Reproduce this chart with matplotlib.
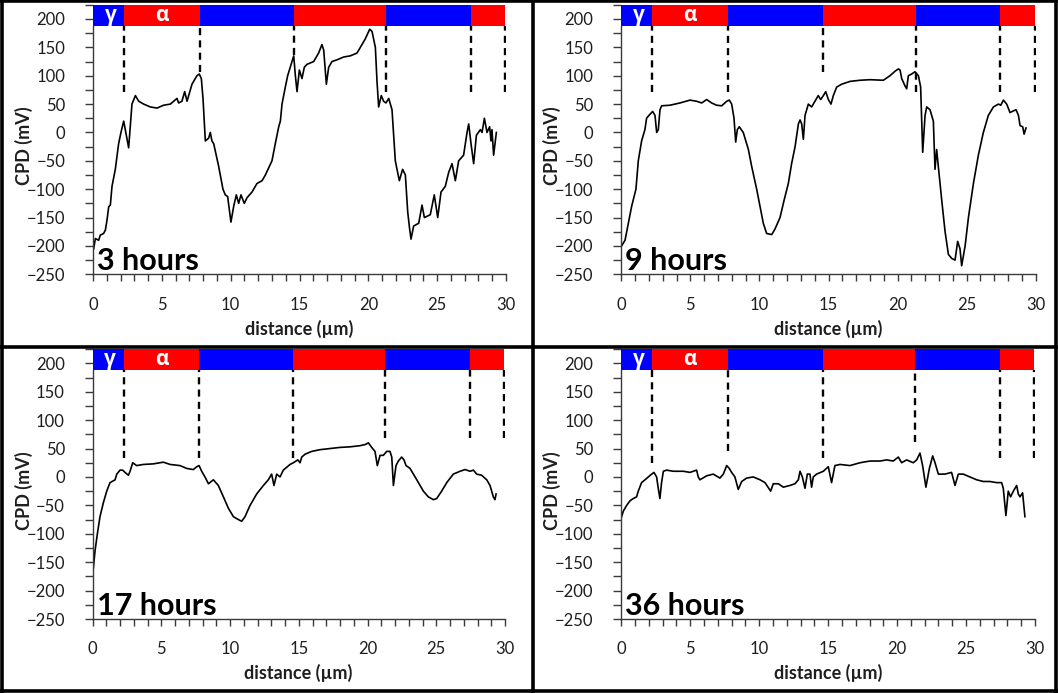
import matplotlib
matplotlib.use("Agg")
import matplotlib.pyplot as plt
from matplotlib.patches import Rectangle
from matplotlib.lines import Line2D
from matplotlib.ticker import MultipleLocator

plt.rcParams['font.family'] = ['Lato', 'DejaVu Sans']

# ---- phase boundaries along the line scan (µm) and phase colours ----
boundaries = [0.0, 2.25, 7.75, 14.6, 21.3, 27.45, 29.95]
phase_colors = ['#0000FF', '#FF0000', '#0000FF', '#FF0000', '#0000FF', '#FF0000']
phase_labels = ['γ', 'α', '', '', '', '']

# ---- CPD profiles (distance in µm, CPD in mV) ----
x_3h = [0.05, 0.17, 0.41, 0.53, 0.77, 0.90, 1.02, 1.14, 1.26, 1.38, 1.62, 1.86, 2.03, 2.23,
        2.59, 2.83, 3.08, 3.32, 3.68, 4.16, 4.65, 5.13, 5.62, 5.86, 6.10, 6.22, 6.46, 6.66,
        6.83, 7.07, 7.19, 7.31, 7.55, 7.72, 7.87, 7.99, 8.16, 8.40, 8.52, 8.64, 8.77, 9.13,
        9.44, 9.61, 9.78, 9.98, 10.02, 10.22, 10.41, 10.58, 10.75, 10.99, 11.19, 11.55, 11.91,
        12.28, 12.52, 13.00, 13.24, 13.49, 13.61, 13.73, 13.97, 14.14, 14.33, 14.58, 14.70,
        14.82, 14.99, 15.18, 15.35, 15.54, 16.03, 16.39, 16.63, 16.76, 16.95, 17.12, 17.36,
        17.72, 18.21, 18.69, 19.18, 19.54, 19.78, 20.10, 20.27, 20.51, 20.63, 20.75, 20.94,
        21.11, 21.28, 21.48, 21.72, 21.96, 22.25, 22.49, 22.69, 22.86, 23.00, 23.10, 23.29,
        23.66, 23.90, 24.07, 24.50, 24.79, 25.04, 25.28, 25.59, 25.84, 26.08, 26.32, 26.56,
        26.92, 27.17, 27.29, 27.46, 27.65, 27.85, 28.14, 28.26, 28.43, 28.62, 28.81, 28.91,
        28.98, 29.10, 29.30]
cpd_3h = [-205, -187, -190, -181, -178, -172, -154, -131, -128, -95, -65, -20, 0, 20,
          -27, 50, 65, 55, 50, 45, 43, 48, 50, 55, 60, 52, 55, 72,
          55, 75, 85, 90, 100, 103, 95, 60, -15, -10, 0, -15, -20, -60,
          -100, -110, -113, -150, -158, -130, -110, -125, -110, -125, -115, -105, -90,
          -85, -75, -50, -20, 10, 20, 50, 80, 100, 115, 135, 100,
          72, 110, 95, 115, 120, 125, 140, 155, 145, 85, 115, 125,
          128, 133, 135, 140, 155, 165, 182, 178, 150, 90, 45, 65,
          55, 52, 60, 40, -50, -85, -65, -75, -140, -170, -188, -165,
          -160, -128, -150, -145, -110, -150, -105, -95, -70, -55, -85, -50,
          -40, 0, 15, -20, -55, -5, 5, 0, 25, 0, 10, -15,
          5, -40, 0]

x_9h = [0.02, 0.27, 0.51, 0.75, 1.06, 1.23, 1.47, 1.71, 1.83, 2.00, 2.27, 2.44, 2.56, 2.68,
        2.80, 2.92, 3.52, 4.25, 4.97, 5.45, 5.82, 6.18, 6.54, 6.90, 7.27, 7.63, 7.82, 7.99,
        8.16, 8.28, 8.40, 8.54, 8.83, 9.20, 9.44, 9.80, 10.04, 10.28, 10.52, 10.89, 11.13,
        11.49, 11.78, 12.09, 12.33, 12.58, 12.82, 12.94, 13.06, 13.18, 13.30, 13.54, 13.78,
        14.02, 14.26, 14.43, 14.63, 14.80, 14.99, 15.18, 15.35, 15.59, 15.95, 16.56, 17.28,
        18.01, 18.97, 19.45, 19.82, 20.06, 20.18, 20.30, 20.54, 20.66, 20.78, 21.02, 21.26,
        21.51, 21.67, 21.82, 21.99, 22.11, 22.35, 22.59, 22.71, 22.83, 22.95, 23.20, 23.44,
        23.68, 23.92, 24.16, 24.35, 24.52, 24.64, 24.89, 25.13, 25.49, 25.85, 26.21, 26.57,
        26.94, 27.30, 27.47, 27.66, 27.90, 28.14, 28.38, 28.58, 28.75, 28.87, 29.06, 29.16,
        29.30]
cpd_9h = [-200, -190, -160, -130, -100, -50, -15, 5, 25, 30, 37, 30, 0, 5,
          40, 47, 48, 52, 57, 55, 52, 58, 52, 48, 47, 55, 57, 50,
          25, -17, 5, 10, 0, -30, -60, -100, -130, -160, -178, -180, -170,
          -150, -120, -90, -55, -25, 15, 22, 15, -12, 30, 50, 45,
          55, 65, 58, 65, 72, 58, 50, 65, 80, 85, 90, 92,
          93, 92, 100, 108, 112, 110, 95, 82, 77, 100, 103, 107,
          100, 80, -35, 30, 45, 40, 20, -65, -30, -60, -120, -175,
          -215, -222, -225, -192, -205, -235, -200, -150, -90, -40, 0, 30,
          45, 50, 48, 57, 50, 35, 38, 40, 30, 12, 10, -3,
          8]

x_17h = [0.05, 0.17, 0.34, 0.53, 0.78, 1.02, 1.26, 1.63, 1.75, 1.99, 2.18, 2.35, 2.60, 2.72,
         2.91, 3.20, 3.69, 4.41, 5.14, 5.63, 6.35, 6.84, 7.32, 7.57, 7.74, 7.93, 8.17, 8.42,
         8.78, 9.14, 9.51, 9.87, 10.24, 10.60, 10.84, 11.08, 11.45, 11.93, 12.42, 12.78, 13.02,
         13.19, 13.39, 13.63, 13.87, 14.36, 14.60, 14.92, 15.09, 15.21, 15.45, 15.94, 16.54,
         17.27, 18.00, 18.72, 19.45, 19.82, 20.06, 20.30, 20.54, 20.71, 20.91, 21.15, 21.39,
         21.63, 21.76, 21.88, 22.07, 22.24, 22.48, 22.65, 22.80, 23.09, 23.58, 24.06, 24.42,
         24.79, 25.03, 25.39, 25.76, 26.24, 26.73, 27.09, 27.46, 27.70, 27.94, 28.30, 28.67,
         28.91, 29.15, 29.27, 29.35]
cpd_17h = [-160, -130, -100, -70, -45, -25, -10, -5, 5, 12, 12, 8, 3, 10,
           25, 20, 22, 23, 26, 22, 20, 15, 13, 18, 20, 10, 0, -12,
           -5, -15, -35, -55, -70, -75, -78, -70, -50, -30, -15, -5, 5,
           -15, 5, 0, 12, 22, 25, 30, 25, 35, 40, 45, 48,
           50, 52, 53, 55, 57, 60, 52, 45, 20, 38, 38, 45,
           45, 35, -15, 20, 28, 35, 30, 20, 15, -5, -25, -35,
           -40, -38, -25, -10, 5, 10, 13, 10, 12, 5, 3, -5,
           -15, -35, -40, -30]

x_36h = [0.02, 0.15, 0.39, 0.63, 0.87, 1.11, 1.23, 1.47, 1.72, 1.96, 2.20, 2.37, 2.56, 2.68,
         2.80, 2.92, 3.05, 3.29, 3.77, 4.50, 4.98, 5.46, 5.58, 5.70, 6.19, 6.67, 7.15, 7.40,
         7.64, 7.83, 8.00, 8.24, 8.48, 8.73, 9.09, 9.57, 10.06, 10.42, 10.83, 11.02, 11.39,
         11.75, 12.23, 12.59, 12.84, 12.96, 13.13, 13.32, 13.49, 13.68, 13.80, 13.92, 14.16,
         14.65, 15.01, 15.25, 15.49, 15.86, 16.58, 17.31, 18.03, 18.76, 19.24, 19.72, 20.09,
         20.33, 20.69, 21.17, 21.42, 21.66, 21.85, 22.09, 22.34, 22.58, 22.75, 22.99, 23.47,
         23.95, 24.20, 24.44, 24.80, 25.28, 25.77, 26.25, 26.73, 27.22, 27.58, 27.70, 27.89,
         28.06, 28.23, 28.43, 28.67, 28.79, 28.91, 29.10, 29.27]
cpd_36h = [-70, -60, -50, -42, -38, -35, -25, -10, -5, 0, 5, 8, 0, -20,
           -38, -10, 10, 12, 10, 10, 8, 12, 0, -5, 2, 5, -2, 5,
           20, 15, 8, 0, -22, -8, -2, 0, -5, -10, -25, -12, -12,
           -18, -15, -12, -5, 10, 0, -20, 5, 5, -18, 0, 5,
           10, 18, -10, 20, 22, 20, 25, 28, 28, 30, 28, 35,
           25, 30, 25, 30, 42, 20, -18, 15, 37, 25, 5, 5,
           8, -15, 5, 5, 0, -5, -8, -8, -10, -10, -20, -68,
           -25, -35, -25, -15, -30, -35, -28, -70]

panel_titles = ['3 hours', '9 hours', '17 hours', '36 hours']
panel_x = [x_3h, x_9h, x_17h, x_36h]
panel_y = [cpd_3h, cpd_9h, cpd_17h, cpd_36h]
# lower end of the dashed boundary markers (mV) in each panel
dash_bottoms = [
    [72, 107, 137, 72, 72, 72],
    [72, 72, 107, 72, 72, 72],
    [33, 33, 33, 69, 69, 69],
    [24, 45, 33, 62, 33, 33],
]

W, H = 1058, 693
fig = plt.figure(figsize=(W / 100, H / 100), dpi=100)

# axes rectangles in pixels: (left, top, right, bottom)
ax_px = [
    (93.0, 4.8, 506.0, 274.3),
    (621.3, 4.8, 1035.7, 274.3),
    (92.7, 349.1, 505.0, 619.0),
    (621.3, 349.1, 1035.0, 619.0),
]

BAR_LO, YTOP = 188, 225
text_col = '#1e1e1e'
spine_col = '#3a3a3a'

for i in range(4):
    l, t, r, b = ax_px[i]
    ax = fig.add_axes([l / W, (H - b) / H, (r - l) / W, (b - t) / H])
    ax.set_xlim(0, 30)
    ax.set_ylim(-250, YTOP)
    for s in ('top', 'right'):
        ax.spines[s].set_visible(False)
    for s in ('left', 'bottom'):
        ax.spines[s].set_color(spine_col)
        ax.spines[s].set_linewidth(1.0)
    ax.spines['left'].set_bounds(-250, BAR_LO)

    ax.xaxis.set_major_locator(MultipleLocator(5))
    ax.xaxis.set_minor_locator(MultipleLocator(1))
    ax.set_yticks(range(-250, 201, 50))
    ax.yaxis.set_minor_locator(MultipleLocator(25))
    ax.tick_params(axis='both', which='both', direction='out', color=spine_col,
                   width=1.0, labelcolor=text_col, labelsize=12)
    ax.tick_params(axis='x', which='major', length=5, pad=11)
    ax.tick_params(axis='x', which='minor', length=5)
    ax.tick_params(axis='y', which='major', length=6, pad=14)
    ax.tick_params(axis='y', which='minor', length=6)

    ax.set_xlabel('distance (µm)', fontsize=13, fontweight='bold', color=text_col)
    ax.set_ylabel('CPD (mV)', fontsize=13, fontweight='bold', color=text_col)
    ax.xaxis.set_label_coords(0.499, -0.168)
    ax.yaxis.set_label_coords(-0.146, 0.476)

    # phase bar along the top
    for k in range(len(phase_colors)):
        x0, x1 = boundaries[k], boundaries[k + 1]
        ax.add_patch(Rectangle((x0, BAR_LO), x1 - x0, YTOP - BAR_LO,
                               facecolor=phase_colors[k], edgecolor='none',
                               zorder=3, clip_on=False))
        if phase_labels[k]:
            cx = (x0 + x1) / 2 + (0.15 if k == 0 else 0)
            ax.text(cx, 207, phase_labels[k], color='white', fontsize=15,
                    fontweight='bold', ha='center', va='center', zorder=4,
                    family=['Open Sans', 'DejaVu Sans'])

    # dashed boundary markers
    ax.vlines(boundaries[1:], dash_bottoms[i], BAR_LO, colors='black',
              linestyles=(0, (3.0, 2.2)), linewidth=1.7, zorder=2)

    ax.plot(panel_x[i], panel_y[i], color='black', linewidth=1.2, zorder=2)

    ax.text(0.3, -243, panel_titles[i], fontsize=22, fontweight='bold',
            color='black', ha='left', va='baseline', zorder=4)

# panel frame grid
frame_kw = dict(color='black', linewidth=2.6, transform=fig.transFigure)
for xp in (2, 533, 1056):
    fig.add_artist(Line2D([xp / W, xp / W], [0, 1], **frame_kw))
for yp in (1, 346.5, 691):
    fig.add_artist(Line2D([0, 1], [1 - yp / H, 1 - yp / H], **frame_kw))

fig.savefig('out.png', dpi=100)
